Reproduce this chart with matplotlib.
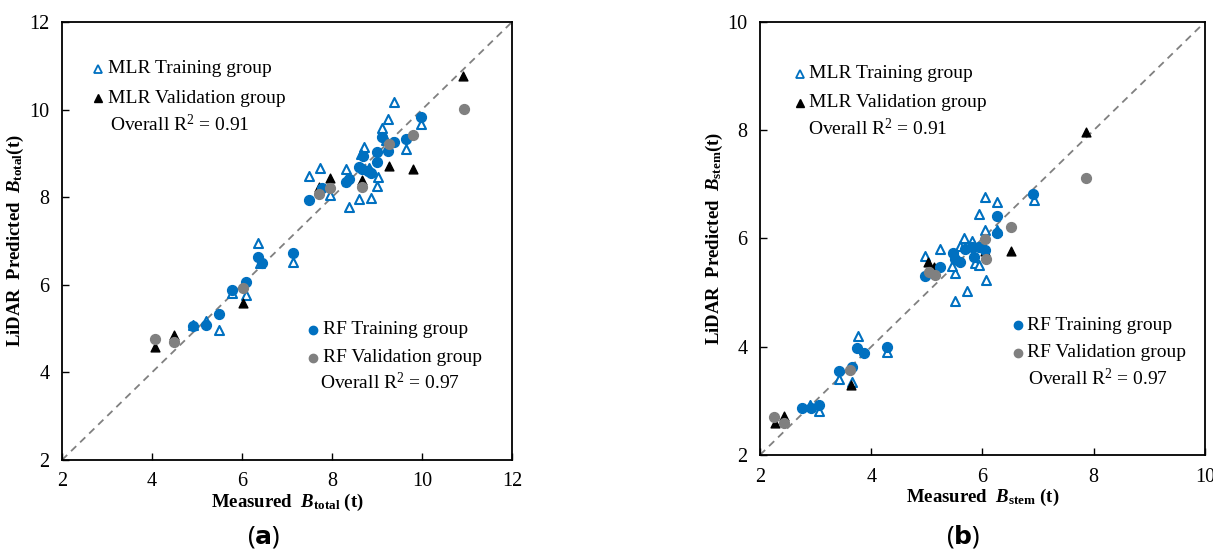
import numpy as np
import matplotlib
matplotlib.use('Agg')
import matplotlib.pyplot as plt

plt.rcParams['font.family'] = 'Liberation Serif'
plt.rcParams['mathtext.fontset'] = 'custom'
plt.rcParams['mathtext.rm'] = 'Liberation Serif'
plt.rcParams['mathtext.it'] = 'Liberation Serif:italic'
plt.rcParams['mathtext.bf'] = 'Liberation Serif:bold'
plt.rcParams['mathtext.bfit'] = 'Liberation Serif:italic:bold'

BLUE = '#0070C0'
GRAY = '#808080'

## PANEL (a) - total biomass
a_mlr_train_x = [9.38, 9.24, 9.10, 9.97, 8.71, 8.65, 9.64, 7.73, 7.50, 8.31, 8.82, 9.02, 9.01,
                 8.61, 8.87, 8.38, 7.96, 9.21, 6.35, 7.14, 6.09, 6.40, 5.78, 5.49, 5.20, 4.92]
a_mlr_train_y = [10.18, 9.78, 9.57, 9.67, 9.14, 8.98, 9.10, 8.67, 8.48, 8.64, 8.67, 8.45, 8.26,
                 7.97, 7.99, 7.77, 8.05, 9.30, 6.96, 6.51, 5.77, 6.49, 5.81, 4.97, 5.17, 5.08]
a_mlr_val_x = [10.91, 9.26, 9.79, 7.96, 8.67, 7.72, 6.03, 4.07, 4.48]
a_mlr_val_y = [10.77, 8.72, 8.64, 8.43, 8.39, 8.23, 5.59, 4.59, 4.85]
a_rf_train_x = [9.97, 9.10, 9.38, 9.24, 9.64, 8.99, 9.01, 8.70, 8.61, 8.66, 8.81, 8.87, 8.37,
                8.31, 7.78, 7.50, 5.48, 5.20, 4.92, 5.78, 6.08, 6.35, 6.44, 7.14]
a_rf_train_y = [9.84, 9.38, 9.27, 9.05, 9.33, 9.03, 8.80, 8.94, 8.70, 8.64, 8.60, 8.56, 8.41,
                8.34, 8.20, 7.94, 5.33, 5.08, 5.06, 5.87, 6.07, 6.64, 6.49, 6.72]
a_rf_val_x = [10.93, 9.79, 9.26, 7.96, 7.72, 8.67, 6.03, 4.07, 4.48]
a_rf_val_y = [10.02, 9.42, 9.21, 8.20, 8.07, 8.24, 5.93, 4.76, 4.69]

## PANEL (b) - stem biomass
b_mlr_train_x = [6.04, 6.27, 5.94, 6.92, 6.05, 6.27, 5.66, 5.81, 5.59, 5.23, 4.97, 5.87, 5.93,
                 5.50, 6.06, 5.72, 5.51, 5.46, 3.76, 4.28, 3.42, 3.65, 2.90, 3.07]
b_mlr_train_y = [6.76, 6.67, 6.45, 6.71, 6.15, 6.16, 6.01, 5.96, 5.86, 5.81, 5.68, 5.54, 5.51,
                 5.37, 5.23, 5.03, 4.85, 5.49, 4.19, 3.91, 3.40, 3.35, 2.92, 2.82]
b_mlr_val_x = [7.86, 6.51, 5.02, 5.13, 6.05, 3.63, 2.27, 2.43]
b_mlr_val_y = [7.96, 5.76, 5.57, 5.47, 5.76, 3.30, 2.59, 2.72]
b_rf_train_x = [6.91, 6.27, 6.27, 5.47, 5.24, 4.97, 5.51, 5.60, 5.68, 5.81, 5.94, 5.84, 6.05,
                3.75, 3.87, 4.28, 3.42, 3.65, 2.75, 2.91, 3.07]
b_rf_train_y = [6.82, 6.42, 6.11, 5.74, 5.47, 5.31, 5.62, 5.57, 5.81, 5.84, 5.85, 5.65, 5.79,
                3.98, 3.88, 4.00, 3.56, 3.62, 2.86, 2.86, 2.92]
b_rf_val_x = [7.86, 6.51, 6.05, 6.06, 5.03, 5.15, 3.62, 2.25, 2.43]
b_rf_val_y = [7.12, 6.21, 5.99, 5.62, 5.39, 5.33, 3.57, 2.70, 2.60]

a_ticks = [2, 4, 6, 8, 10, 12]
b_ticks = [2, 4, 6, 8, 10]


def draw_panel(ax, mlr_tr, mlr_va, rf_tr, rf_va, lim, ticks, sub, r2_mlr, r2_rf, leg1, leg2):
    ax.plot(lim, lim, linestyle=(0, (4, 3)), color=GRAY, lw=1.3, zorder=1)
    ax.scatter(mlr_tr[0], mlr_tr[1], marker='^', s=42, facecolors='white',
               edgecolors=BLUE, linewidths=1.5, zorder=2)
    ax.scatter(mlr_va[0], mlr_va[1], marker='^', s=40, color='black', zorder=3)
    ax.scatter(rf_tr[0], rf_tr[1], marker='o', s=50, color=BLUE, zorder=4)
    ax.scatter(rf_va[0], rf_va[1], marker='o', s=50, color=GRAY, zorder=5)

    ax.set_xlim(lim)
    ax.set_ylim(lim)
    ax.set_xticks(ticks)
    ax.set_yticks(ticks)
    ax.tick_params(direction='in', length=5, width=1, labelsize=14.5, pad=9)
    for s in ax.spines.values():
        s.set_linewidth(1.3)

    ax.set_xlabel(r'Measured  $\mathbfit{B}_{\mathbf{%s}}$ (t)' % sub, fontsize=13.5,
                  fontweight='bold', labelpad=0)
    ax.set_ylabel(r'LiDAR  Predicted  $\mathbfit{B}_{\mathbf{%s}}$(t)' % sub, fontsize=13.5,
                  fontweight='bold', labelpad=2)

    ## legends
    tr = ax.transAxes
    mx, tx, y1, y2, y3, ox = leg1
    ax.plot(mx, y1, '^', ms=6, mfc='white', mec=BLUE, mew=1.3, transform=tr, clip_on=False)
    ax.text(tx, y1, 'MLR Training group', transform=tr, fontsize=14, va='center')
    ax.plot(mx, y2, '^', ms=6, color='black', transform=tr, clip_on=False)
    ax.text(tx, y2, 'MLR Validation group', transform=tr, fontsize=14, va='center')
    ax.text(ox, y3, r'Overall R$^{2}$ = %s' % r2_mlr, transform=tr, fontsize=14, va='center')

    mx, tx, y1, y2, y3, ox = leg2
    ax.plot(mx, y1, 'o', ms=6, color=BLUE, transform=tr, clip_on=False)
    ax.text(tx, y1, 'RF Training group', transform=tr, fontsize=14, va='center')
    ax.plot(mx, y2, 'o', ms=6, color=GRAY, transform=tr, clip_on=False)
    ax.text(tx, y2, 'RF Validation group', transform=tr, fontsize=14, va='center')
    ax.text(ox, y3, r'Overall R$^{2}$ = %s' % r2_rf, transform=tr, fontsize=14, va='center')


fig = plt.figure(figsize=(12.13, 5.54), dpi=100)
ax1 = fig.add_axes([0.0511, 0.1697, 0.371, 0.7906])
ax2 = fig.add_axes([0.6265, 0.1787, 0.3669, 0.7816])

draw_panel(ax1, (a_mlr_train_x, a_mlr_train_y), (a_mlr_val_x, a_mlr_val_y),
           (a_rf_train_x, a_rf_train_y), (a_rf_val_x, a_rf_val_y),
           [2, 12], a_ticks, 'total', '0.91', '0.97',
           (0.080, 0.102, 0.893, 0.826, 0.767, 0.106),
           (0.558, 0.580, 0.297, 0.233, 0.176, 0.573))
draw_panel(ax2, (b_mlr_train_x, b_mlr_train_y), (b_mlr_val_x, b_mlr_val_y),
           (b_rf_train_x, b_rf_train_y), (b_rf_val_x, b_rf_val_y),
           [2, 10], b_ticks, 'stem', '0.91', '0.97',
           (0.090, 0.110, 0.880, 0.813, 0.755, 0.108),
           (0.580, 0.600, 0.300, 0.236, 0.176, 0.602))

fig.text(263 / 1213, 1 - 537 / 554, r'($\mathbf{a}$)', fontsize=18, family='Noto Sans',
         ha='center', va='center', math_fontfamily='dejavusans')
fig.text(963 / 1213, 1 - 537 / 554, r'($\mathbf{b}$)', fontsize=18, family='Noto Sans',
         ha='center', va='center', math_fontfamily='dejavusans')

fig.savefig('out.png', dpi=100)
